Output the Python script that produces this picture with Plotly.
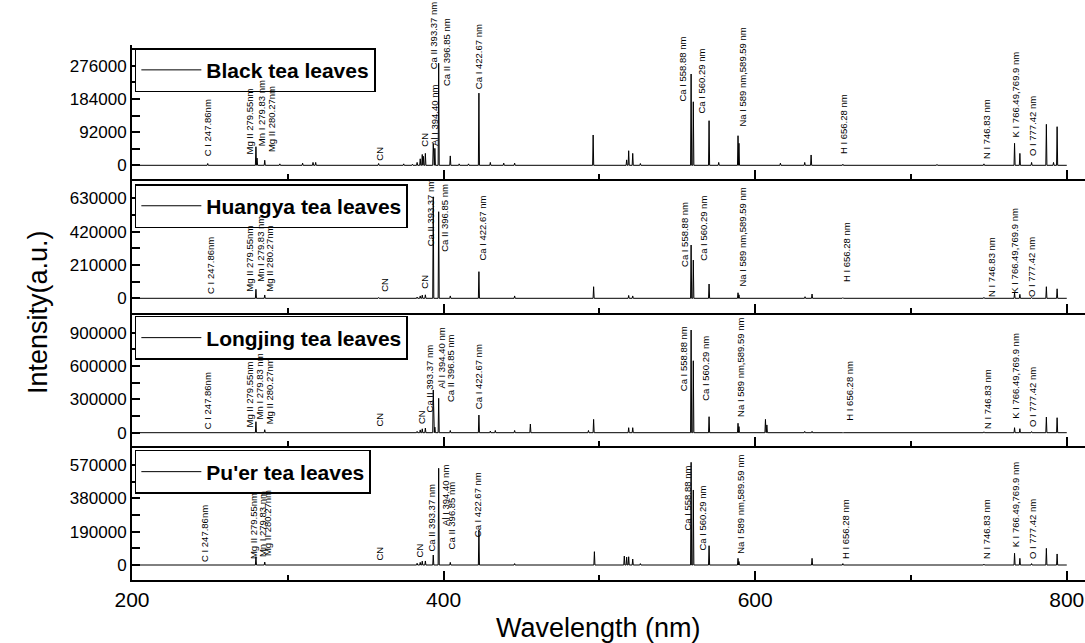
import plotly.graph_objects as go
from plotly.subplots import make_subplots

# ---------------- data ----------------
panel_names = ["Black tea leaves", "Huangya tea leaves", "Longjing tea leaves", "Pu'er tea leaves"]

black_nm  = [248.6, 279.55, 280.27, 285.2, 294.9, 309.5, 316.2, 317.9, 358.3, 374.4, 380.0, 383.0, 385.0, 386.3, 387.0, 388.3,
             393.37, 394.4, 396.85, 404.3, 410.0, 416.0, 422.67, 430.0, 438.6, 445.6, 496.0, 517.5, 518.8, 521.4, 526.3,
             558.88, 560.29, 570.4, 576.6, 588.99, 589.59, 616.2, 631.8, 635.9, 656.28, 716.7, 746.83, 766.49, 769.9,
             777.42, 786.9, 791.5, 793.8]
black_int = [5000, 51500, 20000, 14000, 4000, 6000, 8000, 8000, 5000, 4000, 3000, 8000, 18000, 30000, 25000, 33000,
             60000, 47000, 283000, 26000, 4000, 4000, 200000, 8000, 6000, 6000, 84000, 15000, 40400, 33000, 5000,
             253000, 176000, 123600, 8000, 82000, 61000, 6000, 8000, 28600, 3000, 2500, 4000, 61000, 33000,
             8000, 113600, 8000, 107000]

huangya_nm  = [247.86, 279.55, 285.2, 358.3, 383.0, 385.0, 386.3, 388.3, 393.37, 396.85, 404.3, 422.67, 445.6, 496.3,
               518.8, 521.4, 558.88, 560.29, 570.4, 588.99, 589.59, 632.0, 636.5, 656.28, 746.83, 766.49, 769.9,
               777.42, 786.9, 793.8]
huangya_int = [4000, 56800, 21000, 5000, 8000, 15000, 20000, 22000, 640000, 546000, 15000, 168000, 15000, 73000,
               18000, 15000, 336000, 241000, 90000, 35000, 22000, 10000, 27000, 4000, 6000, 35000, 25000,
               5000, 73000, 60000]

longjing_nm  = [247.86, 279.55, 285.2, 358.3, 383.0, 385.0, 386.3, 388.3, 393.37, 394.4, 396.85, 404.3, 422.67, 430.0,
                433.2, 445.6, 455.7, 493.0, 496.3, 518.8, 521.4, 558.88, 560.29, 570.4, 588.99, 589.59, 606.6,
                607.5, 631.8, 636.5, 656.28, 746.83, 766.49, 769.9, 777.42, 786.9, 793.8]
longjing_int = [5000, 99000, 27000, 6000, 12000, 25000, 35000, 42000, 385000, 50000, 310000, 20000, 159000, 15000,
                20000, 20000, 78000, 20000, 120000, 45000, 45000, 925000, 648000, 144000, 85000, 55000, 120000,
                70000, 12000, 12000, 3000, 8000, 45000, 36000, 10000, 141000, 135000]

puer_nm  = [247.86, 279.55, 285.2, 358.3, 383.0, 385.0, 386.3, 388.3, 393.37, 396.85, 404.3, 422.67, 445.6, 496.8,
            516.0, 517.5, 518.8, 521.4, 526.3, 558.88, 560.29, 570.4, 588.99, 589.59, 636.5, 656.28, 746.83,
            766.49, 769.9, 777.42, 786.9, 793.8]
puer_int = [4000, 47500, 17000, 4000, 10000, 15000, 22000, 23000, 57000, 552000, 15000, 200000, 8000, 76000,
            51000, 45000, 47000, 34000, 8000, 586000, 428000, 110000, 38000, 20000, 38000, 8000, 5000,
            67000, 38000, 8000, 95000, 63000]

# line labels
label_text = ["C I 247.86nm", "Mg II 279.55nm", "Mn I 279.83 nm", "Mg II 280.27nm", "CN", "CN",
              "Ca II 393.37 nm", "Al I 394.40 nm", "Ca II 396.85 nm", "Ca I 422.67 nm", "Ca I 558.88 nm",
              "Ca I 560.29 nm", "Na I 589 nm,589.59 nm", "H I 656.28 nm", "N I 746.83 nm",
              "K I 766.49,769.9 nm", "O I 777.42 nm"]

# annotation anchor positions (label centre in nm, label bottom in a.u.); None = label absent
black_lab_nm = [248.6, 275.4, 282.9, 289.9, 358.3, 387.2, 393.6, 394.1, 402.2, 422.5, 553.1, 565.3, 591.6, 656.4, 748.2, 767.0, 777.7]
black_lab_y  = [23000, 28500, 50700, 34100, 9100, 47900, 262000, 50700, 217000, 208700, 172600, 139400, 103400, 28500, 14700, 75600, 23000]

huangya_lab_nm = [250.3, 274.9, 282.0, 287.7, 361.6, 387.2, 391.5, None, 400.1, 424.7, 554.6, 566.6, 591.6, 658.3, 751.3, 765.9, 777.1]
huangya_lab_y  = [20800, 33400, 96500, 33400, 33400, 52300, 323500, None, 285700, 228900, 191100, 228900, 65000, 96500, 1900, 20800, 1900]

longjing_lab_nm = [248.6, 275.4, 281.8, 288.8, 358.3, 386.2, 390.9, 398.4, 404.8, 422.5, 554.1, 568.0, 590.5, 660.0, 748.8, 766.6, 777.7]
longjing_lab_y  = [24300, 42300, 114400, 69400, 42300, 69400, 177500, 384700, 267600, 204500, 366700, 276600, 132400, 96400, 24300, 114400, 42300]

puer_lab_nm = [246.5, 277.7, 283.5, 286.7, 358.3, 384.5, 392.3, 401.2, 405.0, 421.9, 556.3, 565.9, 590.5, 657.7, 748.2, 767.0, 777.7]
puer_lab_y  = [11400, 28500, 39900, 45600, 17100, 39900, 68500, 216800, 85600, 154100, 188300, 74200, 57100, 28500, 28500, 97000, 28500]

# y-axis ticks per panel
y_tickvals = [[0, 92000, 184000, 276000], [0, 210000, 420000, 630000], [0, 300000, 600000, 900000], [0, 190000, 380000, 570000]]
y_minor = [[46000, 138000, 230000, 322000], [105000, 315000, 525000], [150000, 450000, 750000], [95000, 285000, 475000]]
y_ranges = [[-37270, 333360], [-89500, 753900], [-122100, 1082900], [-85600, 677600]]

x_range = [200, 811.7]
x_major = [200, 400, 600, 800]
x_minor = [300, 500, 700]

peaks = [(black_nm, black_int), (huangya_nm, huangya_int), (longjing_nm, longjing_int), (puer_nm, puer_int)]
labels = [(black_lab_nm, black_lab_y), (huangya_lab_nm, huangya_lab_y), (longjing_lab_nm, longjing_lab_y), (puer_lab_nm, puer_lab_y)]

FONT = "Arial, Liberation Sans, sans-serif"

def stick_spectrum(nm, inten, half=0.35):
    xs, ys = [x_range[0]], [0]
    for w, h in sorted(zip(nm, inten)):
        xs += [w - half, w, w + half]
        ys += [0, h, 0]
    xs.append(800)
    ys.append(0)
    return xs, ys

fig = make_subplots(rows=4, cols=1, shared_xaxes=False, vertical_spacing=0)

domains = [[0.75, 1.0], [0.5, 0.75], [0.25, 0.5], [0.0, 0.25]]
legend_tops = [0.994, 0.740, 0.4935, 0.243]
legend_keys = ["legend", "legend2", "legend3", "legend4"]

for i in range(4):
    xs, ys = stick_spectrum(*peaks[i])
    fig.add_trace(go.Scatter(x=xs, y=ys, mode="lines", name=panel_names[i],
                             line=dict(color="black", width=1), legend=legend_keys[i]),
                  row=i + 1, col=1)
    ax = "" if i == 0 else str(i + 1)
    fig.layout["xaxis" + ax].update(
        domain=[0, 1], range=x_range, showline=True, linewidth=2, linecolor="black",
        ticks="inside", ticklen=9, tickwidth=2, tickcolor="black", tickvals=x_major,
        minor=dict(tickvals=x_minor, ticks="inside", ticklen=5, tickwidth=2, tickcolor="black"),
        showticklabels=(i == 3), showgrid=False, zeroline=False,
        tickfont=dict(family=FONT, size=21, color="black"))
    fig.layout["yaxis" + ax].update(
        domain=domains[i], range=y_ranges[i], showline=True, linewidth=2, linecolor="black",
        ticks="inside", ticklen=8, tickwidth=1.5, tickcolor="black", tickvals=y_tickvals[i],
        ticktext=[str(v) for v in y_tickvals[i]],
        minor=dict(tickvals=y_minor[i], ticks="inside", ticklen=8, tickwidth=1.5, tickcolor="black"),
        showgrid=False, zeroline=False, tickfont=dict(family=FONT, size=17, color="black"))
    leg = dict(x=0.003, y=legend_tops[i], xanchor="left", yanchor="top", xref="paper", yref="paper",
               bgcolor="white", bordercolor="black", borderwidth=1.5, itemwidth=60,
               font=dict(family=FONT, size=21, color="black", weight="bold"))
    fig.layout[legend_keys[i]] = leg
    # line labels
    lab_nm, lab_y = labels[i]
    for t, lx, ly in zip(label_text, lab_nm, lab_y):
        if lx is None:
            continue
        fig.add_annotation(x=lx, y=ly, xref="x" + ax, yref="y" + ax, text=t, textangle=-90,
                           showarrow=False, xanchor="center", yanchor="bottom",
                           font=dict(family=FONT, size=9.5, color="black"), borderpad=0)

fig.add_annotation(x=-0.0986, y=0.501, xref="paper", yref="paper", text="Intensity(a.u.)", textangle=-90,
                   showarrow=False, xanchor="center", yanchor="middle",
                   font=dict(family=FONT, size=27, color="black"))
fig.add_annotation(x=0.489, y=-0.0897, xref="paper", yref="paper", text="Wavelength (nm)",
                   showarrow=False, xanchor="center", yanchor="middle",
                   font=dict(family=FONT, size=27, color="black"))

fig.update_layout(width=1085, height=643, margin=dict(l=132, r=0, t=45, b=63),
                  plot_bgcolor="white", paper_bgcolor="white", showlegend=True)

fig.write_html("out.html")
